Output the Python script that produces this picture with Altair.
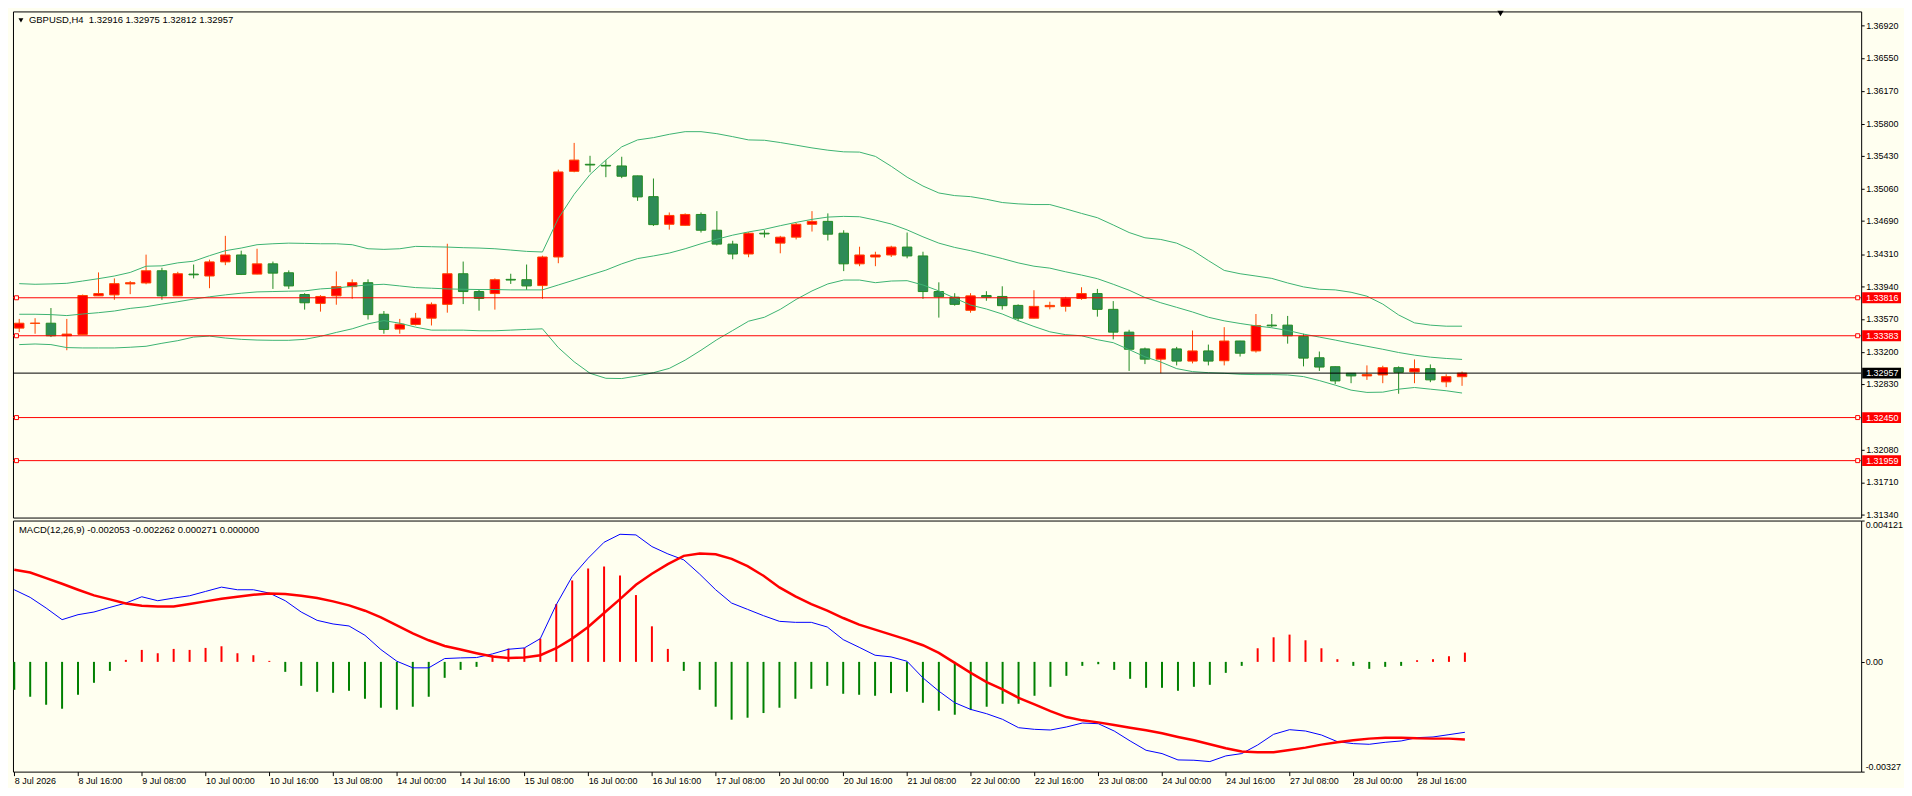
import json
import altair as alt
import pandas as pd

# ---------------- data ----------------
opens = [1.33470, 1.33524, 1.33526, 1.33383, 1.33398, 1.33838, 1.33849, 1.33974, 1.33985, 1.34124,
         1.33838, 1.34086, 1.34064, 1.34225, 1.34304, 1.34086, 1.34203, 1.34101, 1.33853, 1.33752,
         1.33838, 1.33943, 1.33988, 1.33628, 1.33459, 1.33511, 1.33583, 1.33741, 1.34090, 1.33887,
         1.33864, 1.34026, 1.34022, 1.33955, 1.34281, 1.35258, 1.35338, 1.35326, 1.35319, 1.35206,
         1.34969, 1.34654, 1.34642, 1.34766, 1.34586, 1.34428, 1.34315, 1.34552, 1.34439, 1.34507,
         1.34654, 1.34687, 1.34552, 1.34203, 1.34281, 1.34304, 1.34394, 1.34293, 1.33887, 1.33823,
         1.33673, 1.33842, 1.33831, 1.33729, 1.33583, 1.33714, 1.33718, 1.33808, 1.33864, 1.33684,
         1.33424, 1.33233, 1.33116, 1.33233, 1.33094, 1.33210, 1.33098, 1.33323, 1.33210, 1.33504,
         1.33504, 1.33376, 1.33132, 1.33030, 1.32955, 1.32925, 1.32936, 1.33019, 1.32970, 1.33008,
         1.32857, 1.32916]
highs = [1.33575, 1.33583, 1.33699, 1.33575, 1.33853, 1.34105, 1.34037, 1.34007, 1.34308, 1.34158,
         1.34112, 1.34195, 1.34251, 1.34522, 1.34353, 1.34375, 1.34229, 1.34128, 1.33868, 1.33846,
         1.34116, 1.34026, 1.34026, 1.33665, 1.33575, 1.33643, 1.33763, 1.34432, 1.34229, 1.33906,
         1.34037, 1.34090, 1.34195, 1.34296, 1.35277, 1.35582, 1.35435, 1.35386, 1.35424, 1.35208,
         1.35176, 1.34789, 1.34778, 1.34789, 1.34804, 1.34466, 1.34563, 1.34586, 1.34522, 1.34669,
         1.34804, 1.34778, 1.34586, 1.34398, 1.34341, 1.34409, 1.34560, 1.34341, 1.33992, 1.33868,
         1.33868, 1.33891, 1.33947, 1.33741, 1.33902, 1.33771, 1.33827, 1.33936, 1.33917, 1.33778,
         1.33451, 1.33248, 1.33235, 1.33256, 1.33443, 1.33282, 1.33481, 1.33325, 1.33631, 1.33631,
         1.33609, 1.33406, 1.33203, 1.33032, 1.32957, 1.33045, 1.33041, 1.33034, 1.33113, 1.33056,
         1.32944, 1.32975]
lows = [1.33424, 1.33406, 1.33368, 1.33218, 1.33396, 1.33836, 1.33793, 1.33857, 1.33970, 1.33793,
        1.33836, 1.34037, 1.33925, 1.34188, 1.34075, 1.34084, 1.33917, 1.33917, 1.33681, 1.33658,
        1.33737, 1.33804, 1.33568, 1.33406, 1.33406, 1.33500, 1.33500, 1.33646, 1.33744, 1.33669,
        1.33681, 1.33974, 1.33906, 1.33804, 1.34210, 1.35247, 1.35247, 1.35191, 1.35180, 1.34921,
        1.34635, 1.34593, 1.34640, 1.34560, 1.34413, 1.34255, 1.34278, 1.34503, 1.34323, 1.34481,
        1.34571, 1.34469, 1.34120, 1.34176, 1.34176, 1.34281, 1.34266, 1.33804, 1.33590, 1.33726,
        1.33646, 1.33782, 1.33681, 1.33549, 1.33581, 1.33684, 1.33658, 1.33793, 1.33601, 1.33342,
        1.32982, 1.33060, 1.32955, 1.33045, 1.33068, 1.33045, 1.33045, 1.33146, 1.33191, 1.33481,
        1.33293, 1.33034, 1.32982, 1.32831, 1.32842, 1.32880, 1.32842, 1.32722, 1.32842, 1.32854,
        1.32797, 1.32812]
closes = [1.33526, 1.33527, 1.33383, 1.33402, 1.33842, 1.33864, 1.33977, 1.33988, 1.34124, 1.33838,
          1.34090, 1.34078, 1.34225, 1.34304, 1.34082, 1.34203, 1.34097, 1.33951, 1.33759, 1.33831,
          1.33943, 1.33988, 1.33624, 1.33455, 1.33515, 1.33583, 1.33741, 1.34090, 1.33887, 1.33808,
          1.34022, 1.34018, 1.33951, 1.34281, 1.35251, 1.35386, 1.35330, 1.35319, 1.35202, 1.34966,
          1.34650, 1.34755, 1.34766, 1.34586, 1.34428, 1.34315, 1.34552, 1.34544, 1.34507, 1.34654,
          1.34687, 1.34541, 1.34203, 1.34304, 1.34304, 1.34394, 1.34293, 1.33887, 1.33827, 1.33741,
          1.33838, 1.33823, 1.33726, 1.33583, 1.33718, 1.33729, 1.33812, 1.33864, 1.33684, 1.33424,
          1.33229, 1.33116, 1.33233, 1.33094, 1.33210, 1.33094, 1.33323, 1.33184, 1.33500, 1.33496,
          1.33383, 1.33128, 1.33026, 1.32868, 1.32925, 1.32940, 1.33019, 1.32966, 1.33008, 1.32880,
          1.32917, 1.32957]

bb_upper = [1.33977, 1.33970, 1.33974, 1.33981, 1.34007, 1.34034, 1.34064, 1.34105, 1.34176, 1.34180,
            1.34214, 1.34233, 1.34296, 1.34353, 1.34383, 1.34421, 1.34432, 1.34439, 1.34436, 1.34432,
            1.34432, 1.34421, 1.34375, 1.34368, 1.34375, 1.34402, 1.34398, 1.34394, 1.34387, 1.34383,
            1.34375, 1.34360, 1.34345, 1.34338, 1.34721, 1.34996, 1.35221, 1.35387, 1.35537, 1.35616,
            1.35642, 1.35680, 1.35710, 1.35710, 1.35687, 1.35653, 1.35616, 1.35612, 1.35586, 1.35556,
            1.35525, 1.35499, 1.35480, 1.35477, 1.35428, 1.35315, 1.35191, 1.35090, 1.35011, 1.34981,
            1.34969, 1.34939, 1.34902, 1.34887, 1.34879, 1.34879, 1.34830, 1.34778, 1.34729, 1.34646,
            1.34560, 1.34500, 1.34481, 1.34439, 1.34357, 1.34240, 1.34128, 1.34090, 1.34064, 1.34037,
            1.33985, 1.33940, 1.33913, 1.33906, 1.33879, 1.33834, 1.33744, 1.33620, 1.33530, 1.33504,
            1.33492, 1.33492]
bb_middle = [1.33628, 1.33628, 1.33624, 1.33613, 1.33631, 1.33646, 1.33665, 1.33695, 1.33714, 1.33744,
             1.33771, 1.33801, 1.33827, 1.33849, 1.33868, 1.33883, 1.33887, 1.33891, 1.33894, 1.33917,
             1.33928, 1.33947, 1.33962, 1.33970, 1.33951, 1.33932, 1.33925, 1.33917, 1.33913, 1.33910,
             1.33910, 1.33906, 1.33906, 1.33906, 1.33962, 1.34018, 1.34075, 1.34131, 1.34203, 1.34263,
             1.34293, 1.34326, 1.34375, 1.34432, 1.34484, 1.34530, 1.34567, 1.34597, 1.34638, 1.34676,
             1.34710, 1.34736, 1.34744, 1.34740, 1.34702, 1.34657, 1.34590, 1.34511, 1.34439, 1.34390,
             1.34353, 1.34308, 1.34263, 1.34214, 1.34176, 1.34154, 1.34112, 1.34075, 1.34034, 1.33970,
             1.33902, 1.33819, 1.33759, 1.33707, 1.33654, 1.33594, 1.33553, 1.33523, 1.33496, 1.33474,
             1.33443, 1.33402, 1.33368, 1.33334, 1.33297, 1.33263, 1.33229, 1.33192, 1.33162, 1.33139,
             1.33124, 1.33113]
bb_lower = [1.33282, 1.33289, 1.33282, 1.33248, 1.33244, 1.33244, 1.33244, 1.33252, 1.33263, 1.33297,
            1.33327, 1.33368, 1.33379, 1.33357, 1.33342, 1.33334, 1.33331, 1.33331, 1.33342, 1.33376,
            1.33421, 1.33462, 1.33519, 1.33556, 1.33526, 1.33481, 1.33447, 1.33447, 1.33447, 1.33440,
            1.33440, 1.33447, 1.33455, 1.33462, 1.33248, 1.33086, 1.32955, 1.32898, 1.32895, 1.32925,
            1.32962, 1.33011, 1.33105, 1.33218, 1.33338, 1.33443, 1.33549, 1.33594, 1.33684, 1.33797,
            1.33894, 1.33974, 1.34018, 1.34018, 1.33988, 1.34007, 1.34011, 1.33962, 1.33894, 1.33812,
            1.33733, 1.33688, 1.33631, 1.33556, 1.33489, 1.33428, 1.33395, 1.33383, 1.33338, 1.33304,
            1.33225, 1.33143, 1.33083, 1.33008, 1.32974, 1.32962, 1.32955, 1.32944, 1.32940, 1.32940,
            1.32936, 1.32917, 1.32872, 1.32820, 1.32763, 1.32737, 1.32740, 1.32774, 1.32793, 1.32774,
            1.32756, 1.32730]

macd_main = [0.002103, 0.001880, 0.001570, 0.001231, 0.001376, 0.001454, 0.001589, 0.001715, 0.001899, 0.001783,
             0.001860, 0.001928, 0.002054, 0.002180, 0.002103, 0.002103, 0.002006, 0.001783, 0.001454, 0.001211,
             0.001105, 0.001047, 0.000775, 0.000359, 0.000019, -0.000174, -0.000174, 0.000097, 0.000116, 0.000126,
             0.000233, 0.000368, 0.000407, 0.000678, 0.001667, 0.002490, 0.003023, 0.003488, 0.003721, 0.003702,
             0.003362, 0.003149, 0.002975, 0.002558, 0.002103, 0.001715, 0.001531, 0.001347, 0.001182, 0.001153,
             0.001153, 0.001017, 0.000649, 0.000426, 0.000194, 0.000145, 0.000019, -0.000465, -0.000853, -0.001192,
             -0.001386, -0.001512, -0.001676, -0.001919, -0.001967, -0.001986, -0.001899, -0.001783, -0.001802, -0.002016,
             -0.002306, -0.002578, -0.002674, -0.002859, -0.002868, -0.002907, -0.002742, -0.002674, -0.002423, -0.002112,
             -0.001977, -0.002016, -0.002132, -0.002326, -0.002384, -0.002403, -0.002345, -0.002306, -0.002209, -0.002190,
             -0.002122, -0.002053]
macd_signal = [0.002684, 0.002607, 0.002442, 0.002277, 0.002103, 0.001938, 0.001822, 0.001705, 0.001638, 0.001618,
               0.001618, 0.001686, 0.001764, 0.001841, 0.001899, 0.001957, 0.001996, 0.001977, 0.001928, 0.001860,
               0.001764, 0.001647, 0.001492, 0.001298, 0.001066, 0.000833, 0.000630, 0.000465, 0.000359, 0.000252,
               0.000155, 0.000116, 0.000126, 0.000194, 0.000397, 0.000678, 0.001017, 0.001424, 0.001831, 0.002248,
               0.002568, 0.002849, 0.003091, 0.003159, 0.003140, 0.003004, 0.002791, 0.002510, 0.002171, 0.001909,
               0.001686, 0.001492, 0.001279, 0.001085, 0.000940, 0.000795, 0.000649, 0.000485, 0.000262, -0.000029,
               -0.000320, -0.000591, -0.000804, -0.001047, -0.001240, -0.001434, -0.001609, -0.001705, -0.001764, -0.001841,
               -0.001919, -0.001996, -0.002083, -0.002190, -0.002287, -0.002403, -0.002519, -0.002616, -0.002636, -0.002636,
               -0.002568, -0.002500, -0.002413, -0.002345, -0.002287, -0.002238, -0.002209, -0.002209, -0.002229, -0.002238,
               -0.002238, -0.002262]
macd_hist = [-0.000814, -0.001017, -0.001250, -0.001366, -0.000959, -0.000610, -0.000262, 0.000058, 0.000349, 0.000252,
             0.000378, 0.000349, 0.000407, 0.000455, 0.000252, 0.000194, 0.000029, -0.000291, -0.000698, -0.000872,
             -0.000901, -0.000843, -0.001076, -0.001337, -0.001395, -0.001308, -0.001017, -0.000465, -0.000233, -0.000145,
             0.000194, 0.000388, 0.000407, 0.000678, 0.001686, 0.002374, 0.002723, 0.002781, 0.002519, 0.001948,
             0.001037, 0.000378, -0.000262, -0.000814, -0.001308, -0.001686, -0.001628, -0.001492, -0.001337, -0.001076,
             -0.000785, -0.000698, -0.000930, -0.000959, -0.000988, -0.000911, -0.000872, -0.001192, -0.001424, -0.001541,
             -0.001405, -0.001308, -0.001221, -0.001221, -0.000988, -0.000727, -0.000407, -0.000116, -0.000068, -0.000233,
             -0.000494, -0.000756, -0.000756, -0.000843, -0.000727, -0.000669, -0.000320, -0.000116, 0.000397, 0.000717,
             0.000795, 0.000630, 0.000397, 0.000078, -0.000116, -0.000203, -0.000145, -0.000116, 0.000048, 0.000078,
             0.000165, 0.000271]

time_labels = ["8 Jul 2026", "8 Jul 16:00", "9 Jul 08:00", "10 Jul 00:00", "10 Jul 16:00", "13 Jul 08:00",
               "14 Jul 00:00", "14 Jul 16:00", "15 Jul 08:00", "16 Jul 00:00", "16 Jul 16:00", "17 Jul 08:00",
               "20 Jul 00:00", "20 Jul 16:00", "21 Jul 08:00", "22 Jul 00:00", "22 Jul 16:00", "23 Jul 08:00",
               "24 Jul 00:00", "24 Jul 16:00", "27 Jul 08:00", "28 Jul 00:00", "28 Jul 16:00"]
time_tick_bars = [0, 4, 8, 12, 16, 20, 24, 28, 32, 36, 40, 44, 48, 52, 56, 60, 64, 68, 72, 76, 80, 84, 88]

price_ticks = [1.36920, 1.36550, 1.36170, 1.35800, 1.35430, 1.35060, 1.34690, 1.34310, 1.33940,
               1.33570, 1.33200, 1.32830, 1.32080, 1.31710, 1.31340]
red_levels = [1.33816, 1.33383, 1.32450, 1.31959]
bid_level = 1.32957
price_domain = [1.31310, 1.37081]

macd_domain = [-0.00320, 0.004121]
macd_axis_values = [0.004121, 0.0, -0.00320]
macd_axis_labels = ["0.004121", "0.00", "-0.00327"]

header_main = "GBPUSD,H4\u00a0\u00a01.32916 1.32975 1.32812 1.32957"
header_macd = "MACD(12,26,9) -0.002053 -0.002262 0.000271 0.000000"

# ---------------- layout / style ----------------
FONT = "Tahoma, 'Liberation Sans', sans-serif"
BG = "#FFFFF0"
W = 1855
H1 = 508
H2 = 252
BAR_PX = 16
x_scale = alt.Scale(domain=[-0.08, -0.08 + W / BAR_PX], nice=False, zero=False)
y_scale = alt.Scale(domain=price_domain, nice=False, zero=False)
m_scale = alt.Scale(domain=macd_domain, nice=False, zero=False)

n = len(closes)
df = pd.DataFrame({"i": list(range(n)), "open": opens, "high": highs, "low": lows, "close": closes,
                   "upper": bb_upper, "middle": bb_middle, "lower": bb_lower,
                   "macd": macd_main, "signal": macd_signal, "hist": macd_hist})

X = alt.X("i:Q", scale=x_scale, axis=None)
is_up = "datum.close >= datum.open"

# axis provides only the small tick marks; labels are drawn as text marks below
price_axis = alt.Axis(orient="right", values=price_ticks, tickSize=3, labels=False,
                      title=None, domain=False, grid=False)


def py(field):
    return alt.Y(field, scale=y_scale, axis=price_axis)


wicks = alt.Chart(df).mark_rule(strokeWidth=1).encode(
    x=X, y=py("low:Q"), y2="high:Q",
    color=alt.condition(is_up, alt.value("#FF4500"), alt.value("#228B22")),
)
bodies = alt.Chart(df).mark_bar(size=9.5, strokeWidth=1).encode(
    x=X, y=py("open:Q"), y2="close:Q",
    fill=alt.condition(is_up, alt.value("#FF0000"), alt.value("#2E8B57")),
    stroke=alt.condition(is_up, alt.value("#FF4500"), alt.value("#228B22")),
)
bands_df = df.melt(id_vars=["i"], value_vars=["upper", "middle", "lower"], var_name="band", value_name="v")
bands = alt.Chart(bands_df).mark_line(color="#3CB371", strokeWidth=1).encode(
    x=X, y=py("v:Q"), detail="band:N")

lv_df = pd.DataFrame({"level": red_levels})
level_lines = alt.Chart(lv_df).mark_rule(color="#FF0000", strokeWidth=1).encode(y=py("level:Q"))
left_sq = alt.Chart(lv_df).mark_point(shape="square", filled=True, fill=BG, stroke="#FF0000",
                                       strokeWidth=1, size=16, opacity=1).encode(
    x=alt.value(3.5), y=py("level:Q"))
right_sq = alt.Chart(lv_df).mark_point(shape="square", filled=True, fill=BG, stroke="#FF0000",
                                        strokeWidth=1, size=16, opacity=1).encode(
    x=alt.value(W - 3.5), y=py("level:Q"))

bid_df = pd.DataFrame({"level": [bid_level]})
bid_line = alt.Chart(bid_df).mark_rule(color="#000000", strokeWidth=1).encode(y=py("level:Q"))

ticks_df = pd.DataFrame({"p": price_ticks})
tick_text = alt.Chart(ticks_df).mark_text(align="left", baseline="middle", color="#000000",
                                          font=FONT, fontSize=9).encode(
    x=alt.value(W + 5), y=py("p:Q"), text=alt.Text("p:Q", format=".5f"))

tags_df = pd.DataFrame({"level": red_levels + [bid_level],
                        "col": ["#FF0000"] * len(red_levels) + ["#000000"]})
tag_path = "M-1,-0.28L1,-0.28L1,0.28L-1,0.28Z"
tag_boxes = alt.Chart(tags_df).mark_point(shape=tag_path, filled=True, size=1521, opacity=1).encode(
    x=alt.value(W + 20.5), y=py("level:Q"),
    color=alt.Color("col:N", scale=None))
tag_text = alt.Chart(tags_df).mark_text(align="left", baseline="middle", color="#FFFFFF",
                                        font=FONT, fontSize=9).encode(
    x=alt.value(W + 5), y=py("level:Q"),
    text=alt.Text("level:Q", format=".5f"))

hdr_df = pd.DataFrame({"t": [header_main]})
hdr_tri = alt.Chart(hdr_df).mark_point(shape="triangle-down", filled=True, color="#000000",
                                       size=24, opacity=1).encode(x=alt.value(8), y=alt.value(9))
hdr_text = alt.Chart(hdr_df).mark_text(align="left", baseline="middle", font=FONT, fontSize=9.5,
                                       color="#000000").encode(
    x=alt.value(16), y=alt.value(9), text="t:N")
shift_mark = alt.Chart(hdr_df).mark_point(shape="triangle-down", filled=True, color="#000000",
                                          size=40, opacity=1).encode(x=alt.value(1493), y=alt.value(2))

main = alt.layer(wicks, bodies, bands, level_lines, bid_line, left_sq, right_sq, tick_text,
                 tag_boxes, tag_text, hdr_tri, hdr_text, shift_mark).properties(width=W, height=H1)

# ---------------- MACD panel ----------------
label_map = json.dumps(dict(zip([str(b) for b in time_tick_bars], time_labels)))
x_axis = alt.Axis(values=time_tick_bars, labelExpr=f"{label_map}[toString(datum.value)]",
                  labelAlign="left", labelBaseline="top", tickSize=4, labelPadding=1,
                  labelOverlap=False, labelFont=FONT, labelFontSize=9, title=None, labelFlush=False)
XM = alt.X("i:Q", scale=x_scale, axis=x_axis)

m_axis = alt.Axis(orient="right", values=macd_axis_values, tickSize=3, labelPadding=1,
                  labelExpr=(f"datum.value > 0.004 ? '{macd_axis_labels[0]}' : "
                             f"(datum.value < -0.003 ? '{macd_axis_labels[2]}' : '{macd_axis_labels[1]}')"),
                  labelFlush=True, labelOverlap=False, title=None, labelFont=FONT, labelFontSize=9)

hist = alt.Chart(df).mark_rule(strokeWidth=2).encode(
    x=XM,
    y=alt.Y("hist:Q", scale=m_scale, axis=m_axis),
    y2=alt.datum(0),
    color=alt.condition("datum.hist >= 0", alt.value("#FF0000"), alt.value("#008000")),
)
macd_line = alt.Chart(df).mark_line(color="#0000FF", strokeWidth=1).encode(
    x=XM, y=alt.Y("macd:Q", scale=m_scale, axis=m_axis))
signal_line = alt.Chart(df).mark_line(color="#FF0000", strokeWidth=2.5).encode(
    x=XM, y=alt.Y("signal:Q", scale=m_scale, axis=m_axis))
mh_df = pd.DataFrame({"t": [header_macd]})
macd_hdr = alt.Chart(mh_df).mark_text(align="left", baseline="middle", font=FONT, fontSize=9.5,
                                      color="#000000").encode(x=alt.value(6), y=alt.value(9), text="t:N")

macd = alt.layer(hist, macd_line, signal_line, macd_hdr).properties(width=W, height=H2)

chart = alt.vconcat(main, macd, spacing=3, bounds="flush").properties(
    padding=0, background=BG
).configure_view(stroke="#000000", strokeWidth=1, fill=BG).configure_axis(
    grid=False, domain=False, labelColor="#000000", tickColor="#000000"
)

chart.save("out.html", embed_options={"renderer": "svg", "actions": False})
